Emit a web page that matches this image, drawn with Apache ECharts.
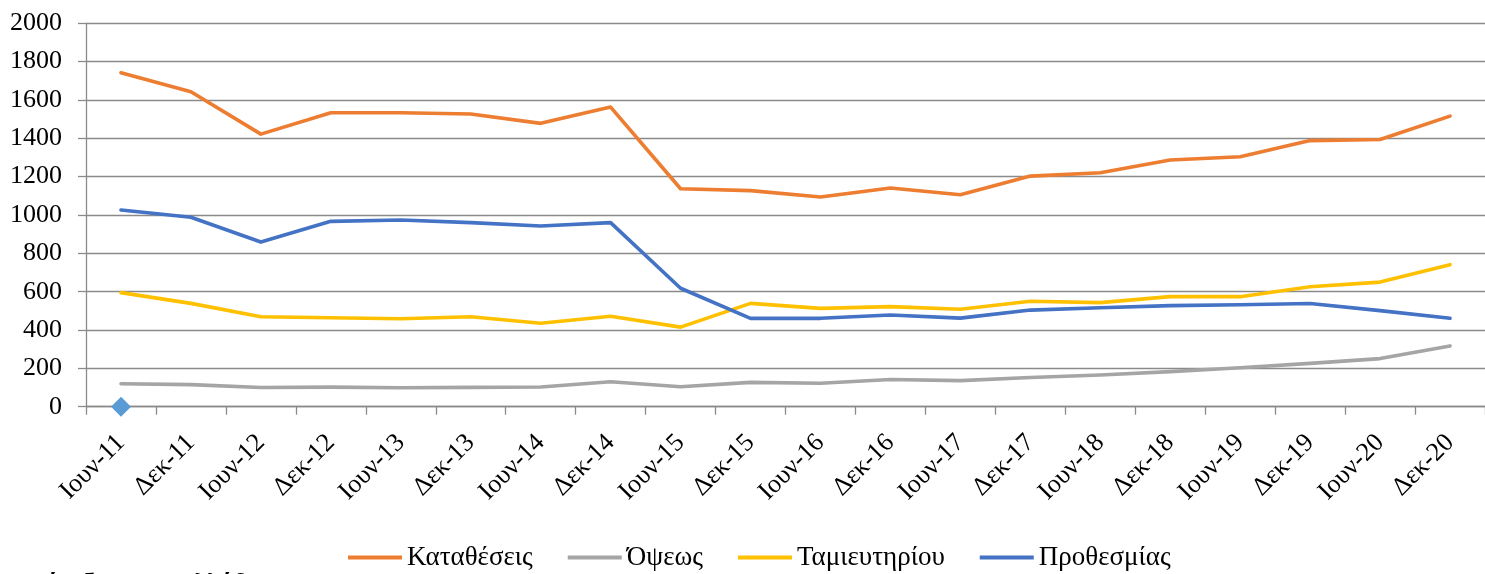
<!DOCTYPE html>
<html>
<head>
<meta charset="utf-8">
<title>Καταθέσεις</title>
<script src="https://cdn.jsdelivr.net/npm/echarts@6/dist/echarts.min.js"></script>
<style>
    html, body { margin: 0; padding: 0; background: #fff; }
    #chart { width: 1485px; height: 574px; }
</style>
</head>
<body>
<div id="chart"></div>
<script>
// κατηγορίες (εξάμηνα)
const categories = ["Ιουν-11", "Δεκ-11", "Ιουν-12", "Δεκ-12", "Ιουν-13", "Δεκ-13", "Ιουν-14", "Δεκ-14", "Ιουν-15", "Δεκ-15",
    "Ιουν-16", "Δεκ-16", "Ιουν-17", "Δεκ-17", "Ιουν-18", "Δεκ-18", "Ιουν-19", "Δεκ-19", "Ιουν-20", "Δεκ-20"];

const katatheseis = [1742, 1643, 1422, 1533, 1533, 1527, 1478, 1563, 1137, 1127, 1094, 1141, 1106, 1203, 1220, 1287, 1304, 1388, 1394, 1516];
const opseos = [120, 115, 100, 102, 99, 101, 103, 130, 104, 127, 122, 142, 136, 152, 165, 183, 203, 226, 251, 317];
const tamieutiriou = [595, 539, 469, 464, 459, 469, 435, 472, 415, 539, 513, 522, 508, 550, 543, 574, 574, 626, 650, 741];
const prothesmias = [1026, 988, 859, 967, 974, 960, 943, 960, 618, 461, 461, 478, 462, 504, 516, 527, 532, 538, 501, 461];
// μεμονωμένο σημείο στο 0 (ρόμβος)
const marker = [0];

const yTicks = {min: 0, max: 2000, interval: 200};

const FONT = "'Liberation Serif', 'Times New Roman', serif";
const GRID_COLOR = "#8a8a8a";

let chart = echarts.init(document.getElementById("chart"), null, {renderer: "canvas"});

function lineSeries(name, data, color) {
    return {
        name: name,
        type: "line",
        data: data,
        symbol: "none",
        smooth: false,
        lineStyle: {color: color, width: 3.6, cap: "round", join: "round"},
        itemStyle: {color: color}
    };
}

let option = {
    animation: false,
    backgroundColor: "#fff",
    textStyle: {fontFamily: FONT},
    grid: {left: 86, top: 23.3, width: 1410, height: 383.4, containLabel: false},
    legend: {
        data: ["Καταθέσεις", "Όψεως", "Ταμιευτηρίου", "Προθεσμίας"],
        icon: "rect",
        left: 348,
        top: 544,
        padding: 0,
        itemWidth: 54,
        itemHeight: 4,
        itemGap: 35,
        textStyle: {fontFamily: FONT, fontSize: 27, color: "#000"}
    },
    xAxis: {
        type: "category",
        data: categories,
        boundaryGap: true,
        axisLine: {show: true, lineStyle: {color: GRID_COLOR, width: 1.3}},
        axisTick: {show: true, length: 8, lineStyle: {color: GRID_COLOR, width: 1.3}},
        axisLabel: {
            rotate: 45,
            interval: 0,
            margin: 32,
            fontFamily: FONT,
            fontSize: 26,
            color: "#000"
        },
        splitLine: {show: false}
    },
    yAxis: {
        type: "value",
        min: yTicks.min,
        max: yTicks.max,
        interval: yTicks.interval,
        axisLine: {show: true, lineStyle: {color: GRID_COLOR, width: 1.3}},
        axisTick: {show: true, length: 8, lineStyle: {color: GRID_COLOR, width: 1.3}},
        axisLabel: {
            margin: 24,
            fontFamily: FONT,
            fontSize: 26,
            color: "#000",
            formatter: function (v) { return String(v); }
        },
        splitLine: {show: true, lineStyle: {color: GRID_COLOR, width: 1.3}}
    },
    series: [
        lineSeries("Καταθέσεις", katatheseis, "#ED7D31"),
        lineSeries("Όψεως", opseos, "#A5A5A5"),
        lineSeries("Ταμιευτηρίου", tamieutiriou, "#FFC000"),
        lineSeries("Προθεσμίας", prothesmias, "#4472C4"),
        {
            name: "σημείο",
            type: "line",
            data: marker,
            symbol: "diamond",
            symbolSize: 20,
            showSymbol: true,
            lineStyle: {width: 0},
            itemStyle: {color: "#5B9BD5"},
            z: 5
        }
    ],
    graphic: [{
        type: "text",
        left: 15,
        top: 572,
        style: {
            text: "Τράπεζες στην Ελλάδα",
            font: "bold 25px " + FONT,
            fill: "#000"
        }
    }]
};

chart.setOption(option);
</script>
</body>
</html>
